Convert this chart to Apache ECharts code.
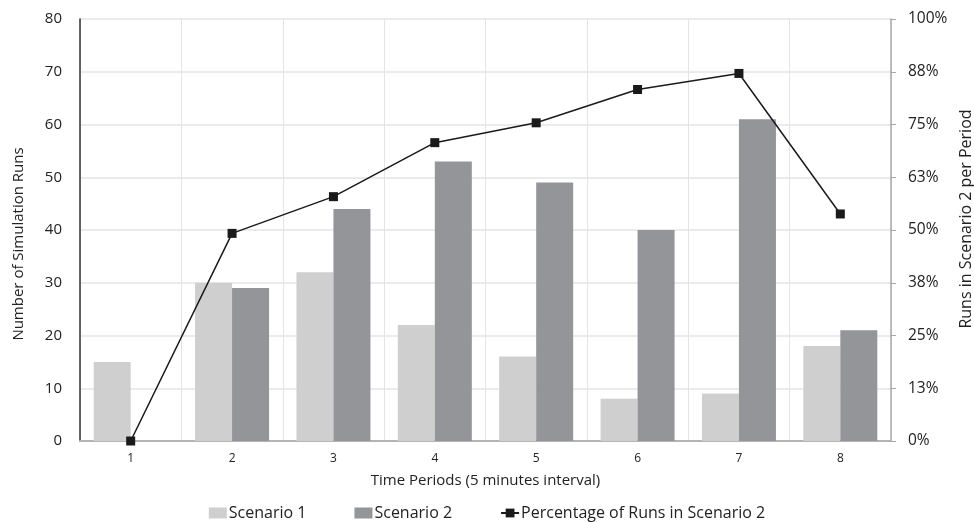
<!DOCTYPE html>
<html>
<head>
<meta charset="utf-8">
<script src="https://cdn.jsdelivr.net/npm/echarts@6/dist/echarts.min.js"></script>
<style>html,body{margin:0;padding:0;background:#fff}#c{width:974px;height:523px}</style>
</head>
<body>
<div id="c"></div>
<script>
const categories = ['1','2','3','4','5','6','7','8'];
const scenario1 = [15, 30, 32, 22, 16, 8, 9, 18];
const scenario2 = [0, 29, 44, 53, 49, 40, 61, 21];
const percentScenario2 = [0, 49.2, 57.9, 70.7, 75.4, 83.3, 87.1, 53.8];
const rightTickLabels = ['0%','13%','25%','38%','50%','63%','75%','88%','100%'];

const FONT = 'Open Sans';
const chart = echarts.init(document.getElementById('c'), null, {renderer: 'canvas'});
chart.setOption({
  animation: false,
  textStyle: {fontFamily: FONT, color: '#222'},
  grid: {left: 80, right: 83, top: 19, bottom: 82, containLabel: false, outerBoundsMode: 'none'},
  legend: {
    top: 500, left: 'center', itemGap: 48, itemWidth: 18, itemHeight: 11,
    textStyle: {fontFamily: FONT, fontSize: 16, color: '#222', padding: [0, 0, 0, -3]},
    data: [
      {name: 'Scenario 1', icon: 'rect'},
      {name: 'Scenario 2', icon: 'rect'},
      {name: 'Percentage of Runs in Scenario 2'}
    ]
  },
  xAxis: {
    type: 'category', data: categories,
    name: 'Time Periods (5 minutes interval)', nameLocation: 'middle', nameGap: 32,
    nameTextStyle: {fontFamily: FONT, fontSize: 15, color: '#222'},
    axisLine: {lineStyle: {color: '#b4b4b4', width: 2}},
    axisTick: {show: false},
    axisLabel: {fontFamily: FONT, fontSize: 12, color: '#222', margin: 12},
    splitLine: {show: true, interval: 0, lineStyle: {color: '#e4e4e4', width: 1}}
  },
  yAxis: [
    {
      type: 'value', min: 0, max: 80, interval: 10,
      name: 'Number of Simulation Runs', nameLocation: 'middle', nameGap: 54,
      nameTextStyle: {fontFamily: FONT, fontSize: 15, color: '#222', padding: [0, 28, 0, 0]},
      axisLine: {show: true, lineStyle: {color: '#333', width: 1.5}},
      axisTick: {show: false},
      axisLabel: {fontFamily: FONT, fontSize: 15, color: '#222', margin: 18},
      splitLine: {lineStyle: {color: '#e4e4e4', width: 1.5}}
    },
    {
      type: 'value', min: 0, max: 100, interval: 12.5,
      name: 'Runs in Scenario 2 per Period', nameLocation: 'middle', nameGap: 64,
      nameRotate: 90,
      nameTextStyle: {fontFamily: FONT, fontSize: 16, color: '#222', padding: [0, 0, 0, 22]},
      axisLine: {show: true, lineStyle: {color: '#a8a8a8', width: 1.5}},
      axisTick: {show: true, length: 5, lineStyle: {color: '#a8a8a8'}},
      axisLabel: {fontFamily: FONT, fontSize: 15.5, color: '#222', margin: 17,
        formatter: (v) => rightTickLabels[Math.round(v / 12.5)]},
      splitLine: {show: false}
    }
  ],
  series: [
    {name: 'Scenario 1', type: 'bar', data: scenario1, barGap: '0%', barCategoryGap: '27%',
     itemStyle: {color: '#d0cfd0'}},
    {name: 'Scenario 2', type: 'bar', data: scenario2,
     itemStyle: {color: '#939598'}},
    {name: 'Percentage of Runs in Scenario 2', type: 'line', yAxisIndex: 1, data: percentScenario2,
     symbol: 'rect', symbolSize: 9, z: 5,
     lineStyle: {color: '#1a1a1a', width: 1.5},
     itemStyle: {color: '#1a1a1a'}}
  ]
});
</script>
</body>
</html>
